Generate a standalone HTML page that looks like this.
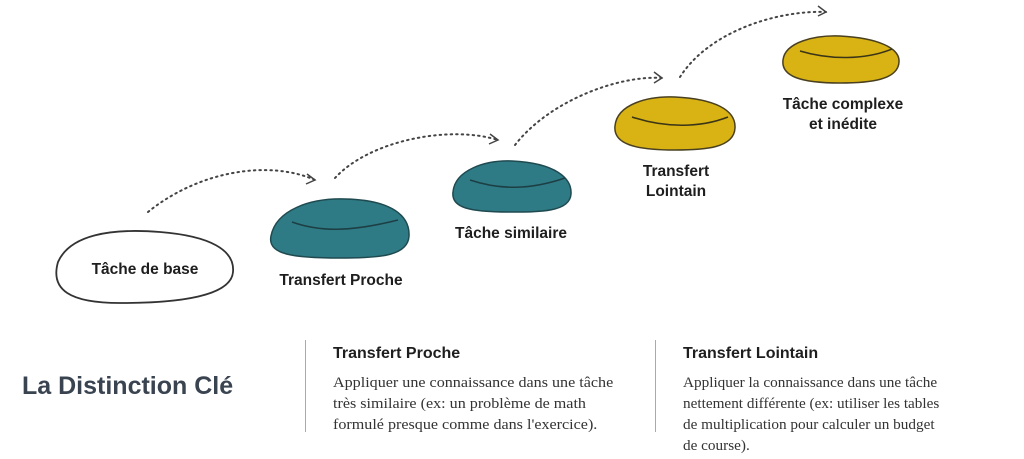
<!DOCTYPE html>
<html><head><meta charset="utf-8"><style>
body{margin:0;width:1024px;height:459px;background:#fff;overflow:hidden;position:relative;font-family:"Liberation Sans",sans-serif}
svg{position:absolute;left:0;top:0}
.t{position:absolute;color:#222}
.h{font-weight:bold;font-size:16px;color:#1e1e1e}
.b{font-family:"Liberation Serif",serif;font-size:14.5px;line-height:21px;color:#333;white-space:nowrap;transform:scaleX(1.11);transform-origin:0 0}
</style></head><body>
<svg width="1024" height="459" viewBox="0 0 1024 459">
<g fill="none" stroke="#444" stroke-width="2" stroke-dasharray="1.5 4" stroke-linecap="round">
<path d="M148 212 C200 170 270 160 315 180"/>
<path d="M335 178 C370 140 450 125 498 140"/>
<path d="M515 145 C550 100 620 75 662 78"/>
<path d="M680 77 C710 30 780 10 826 12"/>
</g>
<g fill="none" stroke="#444" stroke-width="1.5">
<path d="M307 174 L315 180 L306 184"/>
<path d="M490 134 L498 140 L489 144"/>
<path d="M654 72 L662 78 L654 83"/>
<path d="M818 6 L826 12 L818 16"/>
</g>
<path d="M58 262 C70 235 110 228 160 232 C210 236 235 250 233 272 C231 296 180 303 120 303 C70 303 50 290 58 262Z" fill="#fff" stroke="#333" stroke-width="1.8"/>
<path d="M271 236 C276 210 310 198 345 199 C392 200 410 216 409 236 C408 256 380 258 340 258 C295 258 267 255 271 236Z" fill="#2e7b86" stroke="#1f4a50" stroke-width="1.5"/>
<path d="M292 222 C320 232 350 232 398 220" fill="none" stroke="#1d3f44" stroke-width="1.5"/>
<path d="M453 192 C455 170 485 160 512 161 C555 163 572 178 571 194 C570 212 540 212 510 212 C470 212 451 208 453 192Z" fill="#2e7b86" stroke="#1f4a50" stroke-width="1.5"/>
<path d="M470 180 C500 190 530 190 565 178" fill="none" stroke="#1d3f44" stroke-width="1.5"/>
<path d="M615 126 C617 104 648 96 675 97 C715 99 736 110 735 128 C734 148 705 150 675 150 C635 150 613 144 615 126Z" fill="#d8b313" stroke="#4a4020" stroke-width="1.5"/>
<path d="M632 117 C665 128 700 128 728 117" fill="none" stroke="#3a3418" stroke-width="1.5"/>
<path d="M783 60 C785 42 815 35 840 36 C878 38 900 48 899 62 C898 80 870 83 840 83 C800 83 781 76 783 60Z" fill="#d8b313" stroke="#4a4020" stroke-width="1.5"/>
<path d="M800 51 C830 60 865 60 892 49" fill="none" stroke="#3a3418" stroke-width="1.5"/>
<g font-family="Liberation Sans, sans-serif" font-weight="bold" font-size="15.5" fill="#1e1e1e" text-anchor="middle">
<text x="145" y="274">Tâche de base</text>
<text x="341" y="285">Transfert Proche</text>
<text x="511" y="238">Tâche similaire</text>
<text x="676" y="176">Transfert</text>
<text x="676" y="196">Lointain</text>
<text x="843" y="109">Tâche complexe</text>
<text x="843" y="129">et inédite</text>
</g>
<line x1="305.5" y1="340" x2="305.5" y2="432" stroke="#aaa" stroke-width="1"/>
<line x1="655.5" y1="340" x2="655.5" y2="432" stroke="#aaa" stroke-width="1"/>
</svg>
<div class="t" style="left:22px;top:372px;font-size:25px;font-weight:bold;color:#3a4450">La Distinction Clé</div>
<div class="t h" style="left:333px;top:345px">Transfert Proche</div>
<div class="t b" style="left:333px;top:373px">Appliquer une connaissance dans une tâche<br>très similaire (ex: un problème de math<br>formulé presque comme dans l'exercice).</div>
<div class="t h" style="left:683px;top:345px">Transfert Lointain</div>
<div class="t b" style="left:683px;top:373px;transform:scaleX(1.05)">Appliquer la connaissance dans une tâche<br>nettement différente (ex: utiliser les tables<br>de multiplication pour calculer un budget<br>de course).</div>
</body></html>
